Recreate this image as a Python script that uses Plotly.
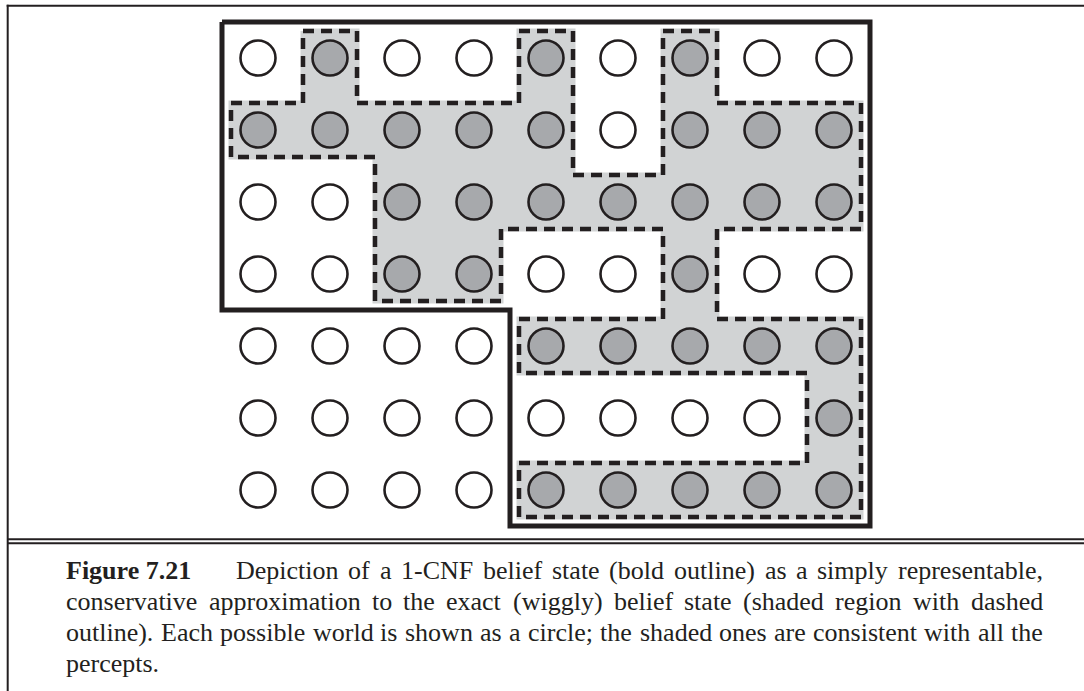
import plotly.graph_objects as go

W, H = 1084, 691

# ---------------- data ----------------
# 1 = world consistent with all percepts (shaded), 0 = not
world_rows = [
    "010010100",
    "111110111",
    "001111111",
    "001100100",
    "000011111",
    "000000001",
    "000011111",
]
# 1 = world inside the 1-CNF belief state (bold outline)
cnf_rows = [
    "111111111",
    "111111111",
    "111111111",
    "111111111",
    "000011111",
    "000011111",
    "000011111",
]
caption_head = "Figure 7.21"
caption_lines = [
    "Depiction of a 1-CNF belief state (bold outline) as a simply representable,",
    "conservative approximation to the exact (wiggly) belief state (shaded region with dashed",
    "outline). Each possible world is shown as a circle; the shaded ones are consistent with all the",
    "percepts.",
]

# ---------------- style ----------------
INK = "#231f20"
SHADE = "#d1d3d4"
DOT = "#a7a9ac"
X0, Y0, STEP = 258, 58, 72          # pixel position of first circle, cell pitch
INSET = 9 / STEP                    # dashed region inset (cell units)
FONT = "Liberation Serif"
FS = 26


def to_mask(rows):
    return [[ch == "1" for ch in row] for row in rows]


def fine_region(mask, d):
    R, C = len(mask), len(mask[0])

    def on(r, c):
        return 0 <= r < R and 0 <= c < C and mask[r][c]

    def lines(n):
        v = []
        for k in range(n):
            v += [k - 0.5, k - 0.5 + d, k + 0.5 - d]
        v.append(n - 0.5)
        return v

    reach = [(-1, 0), (0,), (0, 1)]
    grid = [[False] * (3 * C) for _ in range(3 * R)]
    for r in range(R):
        for c in range(C):
            for j in range(3):
                for i in range(3):
                    grid[3 * r + j][3 * c + i] = all(
                        on(r + dr, c + dc) for dr in reach[j] for dc in reach[i])
    return grid, lines(C), lines(R)


def outline(grid, xs, ys):
    R, C = len(grid), len(grid[0])

    def on(r, c):
        return 0 <= r < R and 0 <= c < C and grid[r][c]

    nxt = {}
    for r in range(R):
        for c in range(C):
            if not grid[r][c]:
                continue
            if not on(r - 1, c):
                nxt.setdefault((c, r), []).append((c + 1, r))
            if not on(r, c + 1):
                nxt.setdefault((c + 1, r), []).append((c + 1, r + 1))
            if not on(r + 1, c):
                nxt.setdefault((c + 1, r + 1), []).append((c, r + 1))
            if not on(r, c - 1):
                nxt.setdefault((c, r + 1), []).append((c, r))
    loops = []
    while nxt:
        start = next(iter(nxt))
        loop = [start]
        cur = start
        while True:
            outs = nxt[cur]
            n = outs.pop()
            if not outs:
                del nxt[cur]
            if n == start:
                break
            loop.append(n)
            cur = n
        m = len(loop)
        pts = []
        for k in range(m):
            a, b, c2 = loop[k - 1], loop[k], loop[(k + 1) % m]
            if (b[0] - a[0]) * (c2[1] - b[1]) - (b[1] - a[1]) * (c2[0] - b[0]) != 0:
                pts.append(b)
        loops.append([(xs[p[0]], ys[p[1]]) for p in pts])
    return loops


def path(loops):
    px, py = [], []
    for lp in loops:
        for (x, y) in lp + lp[:1]:
            px.append(x)
            py.append(y)
        px.append(None)
        py.append(None)
    return px[:-1], py[:-1]


world = to_mask(world_rows)
cnf = to_mask(cnf_rows)
R, C = len(world), len(world[0])

fine, fxs, fys = fine_region(world, INSET)
shade_x, shade_y = path(outline(fine, fxs, fys))
cnf_x, cnf_y = path(outline(cnf, [c - 0.5 for c in range(C + 1)],
                            [r - 0.5 for r in range(R + 1)]))

fig = go.Figure()
fig.add_trace(go.Scatter(x=shade_x, y=shade_y, mode="lines", fill="toself",
                         fillcolor=SHADE, line=dict(color=SHADE, width=5),
                         hoverinfo="skip", showlegend=False))
fig.add_trace(go.Scatter(x=shade_x, y=shade_y, mode="lines",
                         line=dict(color=INK, width=4.5, dash="11px,7px"),
                         hoverinfo="skip", showlegend=False))
fig.add_trace(go.Scatter(x=cnf_x, y=cnf_y, mode="lines",
                         line=dict(color=INK, width=5),
                         hoverinfo="skip", showlegend=False))

cx = [c for r in range(R) for c in range(C)]
cy = [r for r in range(R) for c in range(C)]
cc = [DOT if world[r][c] else "white" for r in range(R) for c in range(C)]
fig.add_trace(go.Scatter(x=cx, y=cy, mode="markers",
                         marker=dict(size=35, color=cc,
                                     line=dict(color=INK, width=2.6)),
                         hoverinfo="skip", showlegend=False))

# ---------------- frame ----------------
def px_line(x0, y0, x1, y1, w=2):
    fig.add_shape(type="line", xref="paper", yref="paper",
                  x0=x0 / W, x1=x1 / W, y0=1 - y0 / H, y1=1 - y1 / H,
                  line=dict(color=INK, width=w))

px_line(6.7, 5.7, W, 5.7)
px_line(7.7, 4.7, 7.7, H)
px_line(7.7, 539.3, W, 539.3)
px_line(7.7, 543.3, W, 543.3)

# ---------------- caption (justified) ----------------
TIMES = {' ': 250, '!': 333, '(': 333, ')': 333, ',': 250, '-': 333, '.': 250,
         ';': 278, ':': 278}
for ch in "0123456789":
    TIMES[ch] = 500
TIMES.update(dict(zip("ABCDEFGHIJKLMNOPQRSTUVWXYZ",
                      [722, 667, 667, 722, 611, 556, 722, 722, 333, 389, 722, 611, 889,
                       722, 722, 556, 722, 667, 556, 611, 722, 722, 944, 722, 722, 611])))
TIMES.update(dict(zip("abcdefghijklmnopqrstuvwxyz",
                      [444, 500, 444, 500, 444, 333, 500, 500, 278, 278, 500, 278, 778,
                       500, 500, 500, 500, 333, 389, 278, 500, 500, 722, 500, 500, 444])))


def tw(s):
    return sum(TIMES.get(ch, 500) for ch in s) * FS / 1000


LEFT, RIGHT, HEAD_GAP = 65, 1042, 235
BASE0, LEAD = 579, 31
ASC_SHIFT = 0.3375 * FS


def word(txt, x, base):
    fig.add_annotation(text=txt, x=x / W, y=1 - (base - ASC_SHIFT) / H,
                       xref="paper", yref="paper", xanchor="left", yanchor="middle",
                       showarrow=False, borderpad=0,
                       font=dict(family=FONT, size=FS, color=INK))


word("<b>" + caption_head + "</b>", LEFT, BASE0)
for li, line in enumerate(caption_lines):
    base = BASE0 + li * LEAD
    words = line.split()
    x0 = HEAD_GAP if li == 0 else LEFT
    if li == len(caption_lines) - 1 or len(words) == 1:
        gap = tw(" ")
    else:
        gap = (RIGHT - x0 - sum(tw(w) for w in words)) / (len(words) - 1)
    x = x0
    for w in words:
        word(w, x, base)
        x += tw(w) + gap

fig.update_layout(
    width=W, height=H, margin=dict(l=0, r=0, t=0, b=0),
    paper_bgcolor="white", plot_bgcolor="white",
    xaxis=dict(range=[(0 - X0) / STEP, (W - X0) / STEP], visible=False, fixedrange=True),
    yaxis=dict(range=[(H - Y0) / STEP, (0 - Y0) / STEP], visible=False, fixedrange=True),
    showlegend=False,
)
fig.write_html("out.html", config={"displayModeBar": False},
               post_script="document.body.style.margin='0';document.body.style.overflow='hidden';")
